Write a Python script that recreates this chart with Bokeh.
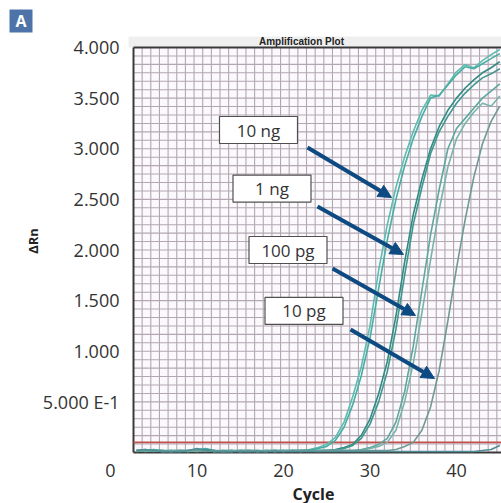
import numpy as np
from bokeh.plotting import figure
from bokeh.models import ColumnDataSource, Arrow, NormalHead
from bokeh.core.properties import value
from bokeh.embed import file_html
from bokeh.resources import INLINE

# ---- data: delta Rn per PCR cycle ----
cycles = list(range(3, 46))

ng10_a = [0.02, 0.03, 0.02, 0.01, 0.01, 0.02, 0.02, 0.03, 0.02, 0.01,
          0.01, 0.02, 0.01, 0.01, 0.02, 0.02, 0.01, 0.02, 0.02, 0.02,
          0.03, 0.05, 0.08, 0.15, 0.30, 0.55, 0.85, 1.25, 1.80, 2.25, 2.62,
          2.92, 3.17, 3.38, 3.53, 3.52, 3.64, 3.76, 3.83, 3.80, 3.87, 3.93, 3.98]
ng10_b = [0.02, 0.02, 0.03, 0.02, 0.01, 0.01, 0.02, 0.03, 0.04, 0.02,
          0.01, 0.01, 0.02, 0.02, 0.01, 0.01, 0.02, 0.02, 0.01, 0.02,
          0.02, 0.04, 0.06, 0.12, 0.25, 0.47, 0.76, 1.13, 1.62, 2.10, 2.50,
          2.83, 3.10, 3.32, 3.50, 3.53, 3.63, 3.73, 3.81, 3.79, 3.84, 3.89, 3.94]
ng1_a = [0.01, 0.02, 0.02, 0.01, 0.02, 0.02, 0.01, 0.02, 0.03, 0.02,
         0.01, 0.02, 0.02, 0.01, 0.01, 0.02, 0.02, 0.01, 0.02, 0.02,
         0.02, 0.02, 0.02, 0.03, 0.05, 0.08, 0.17, 0.33, 0.58, 0.90, 1.35,
         1.88, 2.35, 2.70, 3.00, 3.22, 3.38, 3.50, 3.60, 3.68, 3.75, 3.80, 3.86]
ng1_b = [0.02, 0.02, 0.01, 0.02, 0.02, 0.01, 0.01, 0.02, 0.02, 0.01,
         0.02, 0.02, 0.01, 0.02, 0.02, 0.01, 0.02, 0.02, 0.02, 0.01,
         0.02, 0.02, 0.02, 0.02, 0.04, 0.07, 0.14, 0.28, 0.50, 0.80, 1.22,
         1.75, 2.25, 2.62, 2.95, 3.17, 3.32, 3.45, 3.55, 3.63, 3.70, 3.74, 3.79]
pg100_a = [0.02, 0.01, 0.02, 0.02, 0.01, 0.02, 0.01, 0.02, 0.02, 0.02,
           0.01, 0.01, 0.02, 0.02, 0.01, 0.02, 0.02, 0.01, 0.02, 0.02,
           0.02, 0.02, 0.02, 0.02, 0.02, 0.02, 0.03, 0.05, 0.08, 0.14, 0.30,
           0.60, 1.05, 1.60, 2.15, 2.60, 3.00, 3.20, 3.30, 3.40, 3.50, 3.57, 3.64]
pg100_b = [0.02, 0.02, 0.02, 0.01, 0.02, 0.02, 0.02, 0.01, 0.02, 0.01,
           0.02, 0.02, 0.01, 0.02, 0.01, 0.02, 0.01, 0.02, 0.02, 0.01,
           0.02, 0.02, 0.02, 0.02, 0.02, 0.02, 0.02, 0.04, 0.06, 0.10, 0.22,
           0.50, 0.88, 1.38, 1.90, 2.40, 2.82, 3.10, 3.25, 3.36, 3.45, 3.42, 3.52]
pg10 = [0.01, 0.02, 0.02, 0.02, 0.01, 0.02, 0.02, 0.02, 0.01, 0.02,
        0.02, 0.01, 0.02, 0.02, 0.02, 0.01, 0.02, 0.01, 0.02, 0.02,
        0.02, 0.01, 0.02, 0.02, 0.02, 0.02, 0.02, 0.02, 0.02, 0.02, 0.03,
        0.06, 0.10, 0.22, 0.45, 0.81, 1.30, 1.82, 2.30, 2.72, 3.05, 3.27, 3.42]
ntc = [0.02, 0.03, 0.02, 0.01, 0.01, 0.01, 0.02, 0.04, 0.02, 0.01,
       0.01, 0.01, 0.01, 0.01, 0.01, 0.01, 0.01, 0.01, 0.01, 0.01,
       0.01, 0.01, 0.01, 0.01, 0.01, 0.01, 0.01, 0.01, 0.01, 0.01, 0.01,
       0.01, 0.01, 0.01, 0.01, 0.01, 0.01, 0.01, 0.01, 0.01, 0.02, 0.03, 0.07]

threshold = 0.1

y_ticks = [0.5, 1.0, 1.5, 2.0, 2.5, 3.0, 3.5, 4.0]
y_tick_labels = ["5.000 E-1", "1.000", "1.500", "2.000", "2.500", "3.000", "3.500", "4.000"]
x_ticks = [0, 10, 20, 30, 40]
x_tick_labels = ["0", "10", "20", "30", "40"]

# callout boxes (centre in cycle / delta Rn) and arrows pointing at the curves
box_labels = ["10 ng", "1 ng", "100 pg", "10 pg"]
box_x = [17.11, 18.67, 20.52, 22.37]
box_y = [3.185, 2.607, 2.000, 1.398]
arrow_x0 = [22.77, 23.93, 25.67, 27.75]
arrow_y0 = [3.012, 2.430, 1.817, 1.215]
arrow_x1 = [32.49, 33.87, 35.26, 37.46]
arrow_y1 = [2.518, 1.956, 1.353, 0.731]

names = ["ng10_a", "ng10_b", "ng1_a", "ng1_b", "pg100_a", "pg100_b", "pg10", "ntc"]
colors = ["#5cbcb0", "#48ada3", "#2f8a82", "#3f978f",
          "#5ea79e", "#78b3ab", "#6e9a95", "#4f8d97"]

# ---- layout: the chart paper occupies pixels [L, W] x [T, B] of the canvas ----
W, H = 501, 503
L, T, B = 133, 47, 452
x_lo, x_hi = 2.66, 45.2
y_lo, y_hi = 0.0, 4.0
ppx = (W - L) / (x_hi - x_lo)     # pixels per cycle
ppy = (B - T) / (y_hi - y_lo)     # pixels per delta-Rn unit


def to_x(px):
    return x_lo + (px - L) / ppx


def to_y(py):
    return y_lo + (B - py) / ppy


p = figure(width=W, height=H, x_range=(to_x(0), to_x(W)), y_range=(to_y(H), to_y(0)),
           output_backend="svg", toolbar_location=None,
           x_axis_location=None, y_axis_location=None,
           min_border=0)
p.outline_line_color = None
p.background_fill_color = "white"
p.border_fill_color = "white"
p.grid.visible = False

FONT = "Open Sans"
TXT = "#333333"
PAPER = "#fcf9fc"
GRID = "#b2a7b2"
FRAME = "#3a3a3a"

# title strip and chart paper
p.quad(left=to_x(128), right=x_hi, bottom=y_hi, top=to_y(36),
       fill_color="#efefef", line_color=None)
p.quad(left=x_lo, right=x_hi, bottom=y_lo, top=y_hi, fill_color=PAPER, line_color=None)

# fine grid: one line per cycle, 48 rows over the delta-Rn span
gx = list(np.arange(x_lo + 1, x_hi, 1.0))
gy = [y_lo + i * (y_hi - y_lo) / 48 for i in range(1, 48)]
p.segment(x0=gx, x1=gx, y0=y_lo, y1=y_hi, line_color=GRID, line_width=1.1)
p.segment(x0=x_lo, x1=x_hi, y0=gy, y1=gy, line_color=GRID, line_width=1.1)

# frame edges
p.segment(x0=[x_lo, x_lo, x_lo], x1=[x_hi, x_lo, x_hi],
          y0=[y_hi, y_lo, y_lo], y1=[y_hi, y_hi, y_lo],
          line_color=FRAME, line_width=2)

# threshold
p.segment(x0=x_lo, x1=x_hi, y0=threshold, y1=threshold,
          line_color="#c0504d", line_width=1.6)

src = ColumnDataSource(dict(cycle=cycles, ng10_a=ng10_a, ng10_b=ng10_b,
                            ng1_a=ng1_a, ng1_b=ng1_b, pg100_a=pg100_a,
                            pg100_b=pg100_b, pg10=pg10, ntc=ntc))
for name, color in zip(names, colors):
    p.line("cycle", name, source=src, line_color=color, line_width=1.6)

# tick labels
p.text(x=x_lo, y=y_ticks, text=y_tick_labels, x_offset=-14,
       text_align="right", text_baseline="middle", text_font=value(FONT),
       text_font_size="18px", text_color=TXT)
p.text(x=x_ticks, y=y_lo, text=x_tick_labels, y_offset=18,
       text_align="center", text_baseline="middle", text_font=value(FONT),
       text_font_size="18px", text_color=TXT)

# axis titles and chart title
p.text(x=[(x_lo + x_hi) / 2], y=[y_lo], text=["Cycle"], x_offset=-4, y_offset=41,
       text_align="center", text_baseline="middle", text_font=value(FONT),
       text_font_style="bold", text_font_size="16px", text_color="#222222")
p.text(x=[x_lo], y=[(y_lo + y_hi) / 2], text=["ΔRn"], x_offset=-101, y_offset=-9,
       angle=np.pi / 2, text_align="center", text_baseline="middle",
       text_font=value(FONT), text_font_style="bold", text_font_size="13px",
       text_color="#222222")
p.text(x=[(x_lo + x_hi) / 2], y=[y_hi], text=["Amplification Plot"], x_offset=-16,
       y_offset=-6, text_align="center", text_baseline="middle",
       text_font=value("Liberation Sans"), text_font_style="bold",
       text_font_size="10px", text_color="#222222")

# panel letter
p.rect(x=[to_x(20.5)], y=[to_y(20.5)], width=23, height=23, width_units="screen",
       height_units="screen", fill_color="#4e73a8", line_color=None)
p.text(x=[to_x(20.5)], y=[to_y(20.5)], text=["A"], text_align="center",
       text_baseline="middle", text_font=value(FONT), text_font_style="bold",
       text_font_size="16px", text_color="white")

# callouts
p.rect(x=box_x, y=box_y, width=78, height=27, width_units="screen",
       height_units="screen", fill_color="white", line_color="#505050",
       line_width=1.2)
p.text(x=box_x, y=box_y, text=box_labels, text_align="center",
       text_baseline="middle", text_font=value(FONT), text_font_size="17px",
       text_color=TXT)
ARROW = "#0e4a82"
for xa, ya, xb, yb in zip(arrow_x0, arrow_y0, arrow_x1, arrow_y1):
    p.add_layout(Arrow(end=NormalHead(size=13, fill_color=ARROW, line_color=ARROW),
                       x_start=xa, y_start=ya, x_end=xb, y_end=yb,
                       line_color=ARROW, line_width=4))

open("out.html", "w").write(file_html(p, INLINE))
